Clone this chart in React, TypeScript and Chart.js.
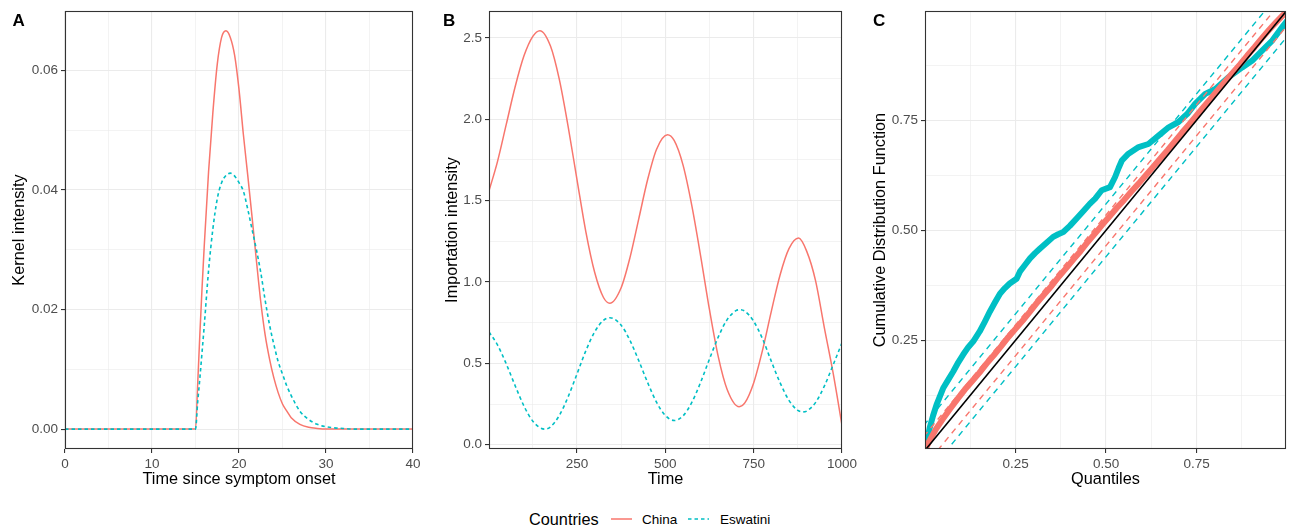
import React, { useEffect, useRef } from "react";
import { Chart, registerables } from "chart.js";

Chart.register(...registerables);

const RED = "#F8766D";
const CYAN = "#00BFC4";
const FONT = "'Liberation Sans', Arial, Helvetica, sans-serif";

// ---------- Panel A: kernel intensity ----------
const kernelTime = [0, 15, 15.25, 15.5, 15.75, 16, 16.5, 17, 17.5, 18, 18.5, 19, 19.5, 20, 20.5, 21, 21.5, 22, 22.5, 23, 23.5, 24, 24.5, 25, 25.5, 26, 27, 28, 29, 30, 31, 32, 33, 40];
const kernelChina = [0, 0, 0.0075, 0.0158, 0.0235, 0.0305, 0.043, 0.053, 0.061, 0.0655, 0.0666, 0.0655, 0.0625, 0.0568, 0.0493, 0.0425, 0.0355, 0.0282, 0.0213, 0.0158, 0.0118, 0.0086, 0.0061, 0.0042, 0.003, 0.0019, 0.0008, 0.0003, 0.0001, 0, 0, 0, 0, 0];
const kernelEswatini = [0, 0, 0.0045, 0.0085, 0.0128, 0.0172, 0.0265, 0.0335, 0.0385, 0.0412, 0.0424, 0.0428, 0.0423, 0.0412, 0.0398, 0.0368, 0.0334, 0.03, 0.0262, 0.0216, 0.0175, 0.0142, 0.0113, 0.0092, 0.0072, 0.0056, 0.003, 0.0016, 0.0008, 0.0004, 0.0002, 0.0001, 0, 0];

// ---------- Panel B: importation intensity ----------
const importTimeChina = [1, 25, 50, 75, 100, 125, 145, 175, 200, 225, 250, 275, 300, 325, 343, 375, 400, 425, 450, 475, 506, 525, 550, 575, 600, 625, 650, 675, 709, 725, 750, 775, 800, 825, 850, 877, 900, 925, 950, 975, 1000];
const importChina = [1.56, 1.74, 1.97, 2.2, 2.39, 2.51, 2.545, 2.45, 2.245, 1.955, 1.63, 1.31, 1.06, 0.905, 0.87, 0.965, 1.15, 1.39, 1.63, 1.815, 1.905, 1.87, 1.72, 1.47, 1.16, 0.83, 0.54, 0.34, 0.234, 0.257, 0.38, 0.58, 0.82, 1.045, 1.205, 1.27, 1.19, 1.01, 0.72, 0.44, 0.12];
const importTimeEswatini = [1, 25, 50, 75, 100, 125, 158, 175, 200, 225, 250, 275, 300, 325, 343, 375, 400, 425, 450, 475, 500, 526, 550, 575, 600, 625, 650, 675, 700, 711, 725, 750, 775, 800, 825, 850, 875, 890, 900, 925, 950, 975, 1000];
const importEswatini = [0.693, 0.614, 0.496, 0.363, 0.238, 0.145, 0.096, 0.11, 0.18, 0.295, 0.435, 0.577, 0.694, 0.765, 0.781, 0.735, 0.641, 0.516, 0.382, 0.262, 0.18, 0.149, 0.177, 0.26, 0.384, 0.527, 0.663, 0.769, 0.824, 0.83, 0.821, 0.759, 0.652, 0.513, 0.38, 0.273, 0.211, 0.202, 0.207, 0.259, 0.36, 0.491, 0.626];

// ---------- Panel C: CDF vs quantiles ----------
const qqChinaX = [0, 0.01, 0.03, 0.05, 0.07, 0.09, 0.11, 0.13, 0.15, 0.17, 0.19, 0.21, 0.23, 0.25, 0.27, 0.29, 0.31, 0.33, 0.35, 0.37, 0.39, 0.41, 0.43, 0.45, 0.47, 0.49, 0.51, 0.53, 0.55, 0.57, 0.59, 0.61, 0.63, 0.65, 0.67, 0.69, 0.71, 0.73, 0.75, 0.77, 0.79, 0.81, 0.83, 0.85, 0.87, 0.89, 0.91, 0.93, 0.95, 0.97, 0.99, 1.0];
const qqChinaY = [0, 0.018, 0.048, 0.072, 0.095, 0.117, 0.138, 0.157, 0.176, 0.197, 0.216, 0.236, 0.257, 0.276, 0.295, 0.315, 0.336, 0.355, 0.374, 0.395, 0.414, 0.434, 0.453, 0.474, 0.493, 0.513, 0.532, 0.551, 0.569, 0.588, 0.606, 0.625, 0.644, 0.663, 0.682, 0.702, 0.722, 0.741, 0.761, 0.781, 0.8, 0.82, 0.839, 0.858, 0.877, 0.897, 0.916, 0.936, 0.955, 0.973, 0.99, 0.998];
const qqEswatiniX = [0, 0.004, 0.013, 0.022, 0.032, 0.05, 0.064, 0.078, 0.092, 0.105, 0.12, 0.133, 0.151, 0.165, 0.179, 0.193, 0.207, 0.22, 0.234, 0.253, 0.262, 0.276, 0.29, 0.304, 0.317, 0.335, 0.354, 0.368, 0.382, 0.4, 0.42, 0.44, 0.455, 0.47, 0.488, 0.511, 0.525, 0.535, 0.544, 0.562, 0.59, 0.617, 0.645, 0.673, 0.7, 0.724, 0.746, 0.774, 0.802, 0.839, 0.876, 0.903, 0.931, 0.959, 0.986, 1.0];
const qqEswatiniY = [0, 0.013, 0.051, 0.078, 0.104, 0.141, 0.16, 0.179, 0.2, 0.217, 0.235, 0.247, 0.27, 0.292, 0.315, 0.336, 0.356, 0.368, 0.379, 0.39, 0.406, 0.421, 0.436, 0.448, 0.458, 0.471, 0.485, 0.491, 0.496, 0.51, 0.528, 0.546, 0.56, 0.572, 0.591, 0.598, 0.621, 0.642, 0.659, 0.674, 0.689, 0.696, 0.715, 0.734, 0.746, 0.764, 0.787, 0.81, 0.821, 0.848, 0.87, 0.885, 0.908, 0.931, 0.961, 0.976];
const diagonalX = [0, 1];
const diagonalY = [0, 1];
const bandChina = 0.035;
const bandEswatini = 0.06;

// ---------- tick values ----------
const aXMajor = [0, 10, 20, 30, 40];
const aXMinor = [5, 15, 25, 35];
const aYMajor = [0, 0.02, 0.04, 0.06];
const aYMinor = [0.01, 0.03, 0.05];
const bXMajor = [250, 500, 750, 1000];
const bXMinor = [125, 375, 625, 875];
const bYMajor = [0, 0.5, 1, 1.5, 2, 2.5];
const bYMinor = [0.25, 0.75, 1.25, 1.75, 2.25];
const cMajor = [0.25, 0.5, 0.75];
const cMinor = [0.125, 0.375, 0.625, 0.875];

const TICK_SIZE = 13.5;
const TITLE_SIZE = 16.3;

const pts = (xs: number[], ys: number[]) => xs.map((x, i) => ({ x, y: ys[i] }));

function axis(o: {
  min: number; max: number; major: number[]; minor: number[];
  fmt: (v: number) => string; title: string; titlePad: number; size: number; horizontal: boolean;
}) {
  const majorSet = new Set(o.major);
  const isMajor = (ctx: any) => ctx && ctx.tick && majorSet.has(ctx.tick.value);
  return {
    type: "linear",
    min: o.min,
    max: o.max,
    afterBuildTicks: (ax: any) => {
      ax.ticks = [...o.major, ...o.minor].sort((a, b) => a - b).map((v) => ({ value: v }));
    },
    afterFit: (ax: any) => {
      if (o.horizontal) ax.height = o.size;
      else ax.width = o.size;
    },
    ticks: {
      autoSkip: false,
      maxRotation: 0,
      minRotation: 0,
      padding: 3,
      color: "#4D4D4D",
      font: { family: FONT, size: TICK_SIZE },
      callback: (v: number) => (majorSet.has(v) ? o.fmt(v) : ""),
    },
    grid: {
      color: "#EBEBEB",
      lineWidth: (ctx: any) => (isMajor(ctx) ? 1.1 : 0.6),
      tickColor: (ctx: any) => (isMajor(ctx) ? "#333333" : "rgba(0,0,0,0)"),
      tickWidth: 1.1,
      tickLength: 4,
      drawTicks: true,
    },
    border: { display: false },
    title: {
      display: true,
      text: o.title,
      color: "#000000",
      font: { family: FONT, size: TITLE_SIZE },
      padding: o.horizontal ? { top: 0, bottom: o.titlePad } : { top: o.titlePad, bottom: 0 },
    },
  };
}

function framePlugin(label: string, lx: number) {
  return {
    id: "frame" + label,
    afterDatasetsDraw(chart: any) {
      const { ctx, chartArea } = chart;
      const { left, top, right, bottom } = chartArea;
      ctx.save();
      ctx.strokeStyle = "#333333";
      ctx.lineWidth = 1.1;
      ctx.strokeRect(Math.round(left) + 0.5, Math.round(top) + 0.5, Math.round(right - left) - 1, Math.round(bottom - top) - 1);
      ctx.restore();
    },
    afterDraw(chart: any) {
      const { ctx } = chart;
      ctx.save();
      ctx.font = `bold 17px ${FONT}`;
      ctx.fillStyle = "#000000";
      ctx.textBaseline = "alphabetic";
      ctx.textAlign = "left";
      ctx.fillText(label, lx, 25.5);
      ctx.restore();
    },
  };
}

function baseOptions(padRight: number, x: any, y: any) {
  return {
    animation: false,
    responsive: false,
    maintainAspectRatio: false,
    devicePixelRatio: 1,
    events: [],
    layout: { padding: { left: 0, top: 10, right: padRight, bottom: 0 } },
    plugins: { legend: { display: false }, tooltip: { enabled: false } },
    elements: { point: { radius: 0 } },
    scales: { x, y },
  };
}

function line(data: any[], color: string, width: number, dash: number[], order: number, smooth: boolean) {
  return {
    data,
    borderColor: color,
    backgroundColor: color,
    borderWidth: width,
    borderDash: dash,
    pointRadius: 0,
    fill: false,
    clip: 0,
    order,
    tension: 0,
    cubicInterpolationMode: smooth ? "monotone" : "default",
    borderJoinStyle: "round",
    borderCapStyle: "butt",
  };
}

function configA() {
  return {
    type: "line",
    data: {
      datasets: [
        line(pts(kernelTime, kernelEswatini), CYAN, 1.6, [3.5, 3], 0, true),
        line(pts(kernelTime, kernelChina), RED, 1.5, [], 1, true),
      ],
    },
    options: baseOptions(
      17,
      axis({ min: 0, max: 40, major: aXMajor, minor: aXMinor, fmt: (v) => String(v), title: "Time since symptom onset", titlePad: 11, size: 51, horizontal: true }),
      axis({ min: -0.00333, max: 0.0699, major: aYMajor, minor: aYMinor, fmt: (v) => v.toFixed(2), title: "Kernel intensity", titlePad: 9.5, size: 65, horizontal: false })
    ),
    plugins: [framePlugin("A", 12.5)],
  };
}

function configB() {
  return {
    type: "line",
    data: {
      datasets: [
        line(pts(importTimeEswatini, importEswatini), CYAN, 1.6, [3.5, 3], 0, true),
        line(pts(importTimeChina, importChina), RED, 1.5, [], 1, true),
      ],
    },
    options: baseOptions(
      17,
      axis({ min: 1, max: 1000, major: bXMajor, minor: bXMinor, fmt: (v) => String(v), title: "Time", titlePad: 11, size: 51, horizontal: true }),
      axis({ min: -0.026, max: 2.665, major: bYMajor, minor: bYMinor, fmt: (v) => v.toFixed(1), title: "Importation intensity", titlePad: 12.4, size: 59, horizontal: false })
    ),
    plugins: [framePlugin("B", 13)],
  };
}

function bandLine(d: number) {
  return [
    { x: -0.1, y: -0.1 + d },
    { x: 1.1, y: 1.1 + d },
  ];
}

function configC() {
  return {
    type: "line",
    data: {
      datasets: [
        line(pts(diagonalX, diagonalY), "#000000", 1.6, [], 0, false),
        line(bandLine(bandChina), RED, 1.4, [6, 5], 1, false),
        line(bandLine(-bandChina), RED, 1.4, [6, 5], 1, false),
        line(bandLine(bandEswatini), CYAN, 1.4, [6, 5], 1, false),
        line(bandLine(-bandEswatini), CYAN, 1.4, [6, 5], 1, false),
        line(pts(qqChinaX, qqChinaY), RED, 6, [], 2, false),
        line(pts(qqEswatiniX, qqEswatiniY), CYAN, 6, [], 3, false),
      ],
    },
    options: baseOptions(
      5,
      axis({ min: 0, max: 0.997, major: cMajor, minor: cMinor, fmt: (v) => v.toFixed(2), title: "Quantiles", titlePad: 11, size: 51, horizontal: true }),
      axis({ min: 0.003, max: 0.998, major: cMajor, minor: cMinor, fmt: (v) => v.toFixed(2), title: "Cumulative Distribution Function", titlePad: 10.4, size: 65, horizontal: false })
    ),
    plugins: [framePlugin("C", 13)],
  };
}

function Panel({ left, width, make }: { left: number; width: number; make: () => any }) {
  const ref = useRef<HTMLCanvasElement | null>(null);
  useEffect(() => {
    if (!ref.current) return;
    const chart = new Chart(ref.current, make());
    return () => chart.destroy();
  }, []);
  return (
    <canvas
      ref={ref}
      width={width}
      height={500}
      style={{ position: "absolute", left, top: 0, width, height: 500 }}
    />
  );
}

export default function App() {
  return (
    <div style={{ position: "absolute", left: 0, top: 0, width: 1291, height: 527, background: "#FFFFFF", overflow: "hidden" }}>
      <Panel left={0} width={430} make={configA} />
      <Panel left={430} width={430} make={configB} />
      <Panel left={860} width={431} make={configC} />
      <svg
        width={1291}
        height={27}
        style={{ position: "absolute", left: 0, top: 500 }}
        fontFamily={FONT}
      >
        <text x={529} y={24.5} fontSize={16.3} fill="#000000">Countries</text>
        <line x1={611} y1={19} x2={632} y2={19} stroke={RED} strokeWidth={1.5} />
        <text x={642} y={24} fontSize={13.5} fill="#000000">China</text>
        <line x1={688} y1={19} x2={709} y2={19} stroke={CYAN} strokeWidth={1.6} strokeDasharray="3.5 3" />
        <text x={720} y={24} fontSize={13.5} fill="#000000">Eswatini</text>
      </svg>
    </div>
  );
}
